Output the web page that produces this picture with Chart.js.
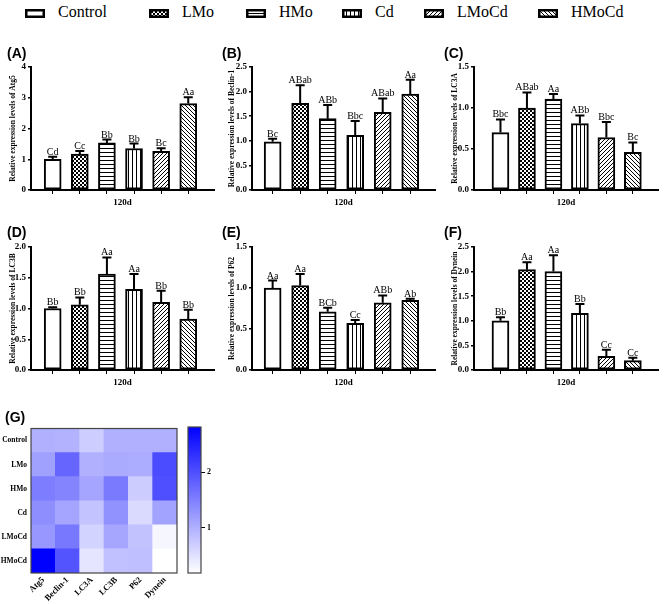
<!DOCTYPE html>
<html>
<head>
<meta charset="utf-8">
<script src="https://cdn.jsdelivr.net/npm/chart.js@4.4.1/dist/chart.umd.min.js"></script>
<style>
  html, body { margin: 0; padding: 0; background: #fff; }
  #page { position: relative; width: 669px; height: 604px; overflow: hidden; font-family: "Liberation Serif", "DejaVu Serif", serif; }
  .panel { position: absolute; }
  .tag { position: absolute; font: bold 14px "Liberation Sans", Arial, sans-serif; line-height: 14px; color: #000; }
  .legend-item { position: absolute; top: 0; height: 22px; width: 110px; }
  .legend-item canvas { position: absolute; left: 0; top: 9px; }
  .legend-item span { position: absolute; left: 33px; top: 4px; font-family: "Liberation Serif", "DejaVu Serif", serif; font-size: 16px; line-height: 16px; white-space: nowrap; color: #000; }
</style>
</head>
<body>
<div id="page">
  <div id="legend"></div>

  <canvas class="panel" id="chartA" width="220" height="175" style="left:0;top:40px"></canvas>
  <canvas class="panel" id="chartB" width="220" height="175" style="left:220px;top:40px"></canvas>
  <canvas class="panel" id="chartC" width="229" height="175" style="left:440px;top:40px"></canvas>
  <canvas class="panel" id="chartD" width="220" height="175" style="left:0;top:220px"></canvas>
  <canvas class="panel" id="chartE" width="220" height="175" style="left:220px;top:220px"></canvas>
  <canvas class="panel" id="chartF" width="229" height="175" style="left:440px;top:220px"></canvas>
  <canvas class="panel" id="heatmap" width="182" height="184" style="left:0;top:420px"></canvas>
  <canvas class="panel" id="colorbar" width="40" height="184" style="left:182px;top:420px"></canvas>

  <div class="tag" style="left:7px;top:46px">(A)</div>
  <div class="tag" style="left:222px;top:46px">(B)</div>
  <div class="tag" style="left:444px;top:46px">(C)</div>
  <div class="tag" style="left:7px;top:225px">(D)</div>
  <div class="tag" style="left:222px;top:225px">(E)</div>
  <div class="tag" style="left:444px;top:225px">(F)</div>
  <div class="tag" style="left:5px;top:410px">(G)</div>
</div>

<script>
// Groups and genes
const groups = ['Control', 'LMo', 'HMo', 'Cd', 'LMoCd', 'HMoCd'];
const genes = ['Atg5', 'Beclin-1', 'LC3A', 'LC3B', 'P62', 'Dynein'];

// Means, error (SD upper half) and significance letters per gene
const atg5Mean = [1.00, 1.17, 1.53, 1.35, 1.26, 2.81];
const atg5Err = [0.08, 0.10, 0.11, 0.16, 0.10, 0.21];
const atg5Letters = ['Cd', 'Cc', 'Bb', 'Bb', 'Bc', 'Aa'];
const atg5Ticks = [0, 1, 2, 3, 4];

const beclinMean = [0.98, 1.76, 1.45, 1.11, 1.58, 1.95];
const beclinErr = [0.06, 0.37, 0.28, 0.29, 0.28, 0.29];
const beclinLetters = ['Bc', 'ABab', 'ABb', 'Bbc', 'ABab', 'Aa'];
const beclinTicks = [0, 0.5, 1.0, 1.5, 2.0, 2.5];

const lc3aMean = [0.70, 1.00, 1.11, 0.81, 0.64, 0.46];
const lc3aErr = [0.16, 0.19, 0.06, 0.10, 0.19, 0.12];
const lc3aLetters = ['Bbc', 'ABab', 'Aa', 'ABb', 'Bbc', 'Bc'];
const lc3aTicks = [0, 0.5, 1.0, 1.5];

const lc3bMean = [1.00, 1.06, 1.56, 1.31, 1.10, 0.83];
const lc3bErr = [0.02, 0.12, 0.27, 0.25, 0.19, 0.15];
const lc3bLetters = ['Bb', 'Bb', 'Aa', 'Aa', 'Bb', 'Bb'];
const lc3bTicks = [0, 0.5, 1.0, 1.5, 2.0];

const p62Mean = [1.00, 1.03, 0.71, 0.57, 0.82, 0.85];
const p62Err = [0.09, 0.14, 0.05, 0.04, 0.09, 0.02];
const p62Letters = ['Aa', 'Aa', 'BCb', 'Cc', 'ABb', 'Ab'];
const p62Ticks = [0, 0.5, 1.0, 1.5];

const dyneinMean = [1.00, 2.04, 2.00, 1.15, 0.28, 0.19];
const dyneinErr = [0.07, 0.15, 0.33, 0.19, 0.13, 0.06];
const dyneinLetters = ['Bb', 'Aa', 'Aa', 'Bb', 'Cc', 'Cc'];
const dyneinTicks = [0, 0.5, 1.0, 1.5, 2.0, 2.5];

const colorbarTicks = [1, 2];

const SERIF = '"Liberation Serif", "DejaVu Serif", serif';
Chart.defaults.font.family = SERIF;
Chart.defaults.color = '#000';

// Fill patterns for each treatment group
function makePattern(kind) {
    const tile = document.createElement('canvas');
    tile.width = 4; tile.height = 4;
    const g = tile.getContext('2d');
    g.fillStyle = '#fff';
    g.fillRect(0, 0, 4, 4);
    g.fillStyle = '#000';
    if (kind === 'checker') { g.fillRect(0, 0, 2, 2); g.fillRect(2, 2, 2, 2); }
    if (kind === 'hline') g.fillRect(0, 0, 4, 1);
    if (kind === 'vline') g.fillRect(0, 0, 1, 4);
    if (kind === 'fwd') for (let i = 0; i < 4; i++) g.fillRect(3 - i, i, 1, 1);
    if (kind === 'back') for (let i = 0; i < 4; i++) g.fillRect(i, i, 1, 1);
    return g.createPattern(tile, 'repeat');
}
const groupKinds = ['plain', 'checker', 'hline', 'vline', 'fwd', 'back'];
const groupFills = groupKinds.map(makePattern);

// Legend on top
const legendPos = [25, 149, 246, 342, 424, 538];
const legendEl = document.getElementById('legend');
groups.forEach((name, i) => {
    const item = document.createElement('div');
    item.className = 'legend-item';
    item.style.left = legendPos[i] + 'px';
    const sw = document.createElement('canvas');
    sw.width = 20; sw.height = 9;
    const c = sw.getContext('2d');
    c.fillStyle = groupFills[i];
    c.fillRect(0, 0, 20, 9);
    c.lineWidth = 2.5;
    c.strokeStyle = '#000';
    c.strokeRect(1.25, 1.25, 17.5, 6.5);
    const label = document.createElement('span');
    label.textContent = name;
    item.appendChild(sw);
    item.appendChild(label);
    legendEl.appendChild(item);
});

// Error bars + letters above each bar
const errorBarPlugin = {
    id: 'errorBars',
    afterDatasetsDraw(chart) {
        const opts = chart.options.plugins.errorBars;
        if (!opts || !opts.err) return;
        const ctx = chart.ctx;
        const y = chart.scales.y;
        const meta = chart.getDatasetMeta(0);
        const values = chart.data.datasets[0].data;
        ctx.save();
        ctx.strokeStyle = '#000';
        ctx.lineWidth = 2;
        ctx.fillStyle = '#000';
        ctx.font = '10px ' + SERIF;
        ctx.textAlign = 'center';
        ctx.textBaseline = 'alphabetic';
        meta.data.forEach((bar, i) => {
            const top = y.getPixelForValue(values[i].y + opts.err[i]);
            ctx.beginPath();
            ctx.moveTo(bar.x, bar.y);
            ctx.lineTo(bar.x, top);
            ctx.moveTo(bar.x - 4.5, top);
            ctx.lineTo(bar.x + 4.5, top);
            ctx.stroke();
            ctx.fillText(opts.letters[i], bar.x, top - 2);
        });
        ctx.restore();
    }
};

// Thin frame around chart area (heatmap, colour bar)
const framePlugin = {
    id: 'frame',
    afterDraw(chart) {
        if (!chart.options.plugins.frame) return;
        const { left, top, width, height } = chart.chartArea;
        const ctx = chart.ctx;
        ctx.save();
        ctx.strokeStyle = '#444';
        ctx.lineWidth = 1.2;
        ctx.strokeRect(left, top, width, height);
        ctx.restore();
    }
};

const panels = [
    { id: 'chartA', means: atg5Mean, errs: atg5Err, letters: atg5Letters, ticks: atg5Ticks, dec: 0, gene: 'Atg5', yWidth: 31, padRight: 6, titleX: 13, xMin: 0.2, xMax: 6.95 },
    { id: 'chartB', means: beclinMean, errs: beclinErr, letters: beclinLetters, ticks: beclinTicks, dec: 1, gene: 'Beclin-1', yWidth: 32, padRight: 5, titleX: 12, xMin: 0.25, xMax: 6.9 },
    { id: 'chartC', means: lc3aMean, errs: lc3aErr, letters: lc3aLetters, ticks: lc3aTicks, dec: 1, gene: 'LC3A', yWidth: 34, padRight: 11, titleX: 15, xMin: 0.0, xMax: 6.95 },
    { id: 'chartD', means: lc3bMean, errs: lc3bErr, letters: lc3bLetters, ticks: lc3bTicks, dec: 1, gene: 'LC3B', yWidth: 31, padRight: 6, titleX: 13, xMin: 0.2, xMax: 6.95 },
    { id: 'chartE', means: p62Mean, errs: p62Err, letters: p62Letters, ticks: p62Ticks, dec: 1, gene: 'P62', yWidth: 32, padRight: 5, titleX: 12, xMin: 0.25, xMax: 6.9 },
    { id: 'chartF', means: dyneinMean, errs: dyneinErr, letters: dyneinLetters, ticks: dyneinTicks, dec: 1, gene: 'Dynein', yWidth: 34, padRight: 11, titleX: 15, xMin: 0.0, xMax: 6.95 }
];

panels.forEach(p => {
    new Chart(document.getElementById(p.id), {
        type: 'bar',
        data: {
            datasets: [{
                data: p.means.map((m, i) => ({ x: i + 1, y: m })),
                backgroundColor: groupFills,
                borderColor: '#000',
                borderWidth: 2,
                borderSkipped: false,
                barThickness: 17
            }]
        },
        options: {
            responsive: false,
            animation: false,
            layout: { padding: { top: 27, right: p.padRight, left: 0, bottom: 0 } },
            plugins: {
                legend: { display: false },
                tooltip: { enabled: false },
                errorBars: { err: p.errs, letters: p.letters }
            },
            scales: {
                x: {
                    type: 'linear',
                    offset: false,
                    min: p.xMin,
                    max: p.xMax,
                    afterBuildTicks: s => { s.ticks = p.means.map((_, i) => ({ value: i + 1 })); },
                    afterFit: s => { s.height = 25; },
                    ticks: { display: false },
                    grid: { offset: false, drawOnChartArea: false, drawTicks: true, tickLength: 4, color: '#000', lineWidth: 1 },
                    border: { color: '#000', width: 2 },
                    title: { display: true, text: '120d', color: '#000', font: { family: SERIF, weight: 'bold', size: 9 }, padding: { top: 0, bottom: 6.5 } }
                },
                y: {
                    min: p.ticks[0],
                    max: p.ticks[p.ticks.length - 1],
                    afterBuildTicks: s => { s.ticks = p.ticks.map(v => ({ value: v })); },
                    afterFit: s => { s.width = p.yWidth; },
                    ticks: { color: '#000', padding: 2, font: { family: SERIF, weight: 'bold', size: 9 }, callback: v => v.toFixed(p.dec) },
                    grid: { drawOnChartArea: false, drawTicks: true, tickLength: 3, color: '#000', lineWidth: 1.5 },
                    border: { color: '#000', width: 2 },
                    title: { display: true, text: 'Relative expression levels of ' + p.gene, color: '#000', font: { family: SERIF, weight: 'bold', size: 7.5 }, padding: { top: p.titleX - 4.5, bottom: 0 } }
                }
            }
        },
        plugins: [errorBarPlugin]
    });
});

// Heatmap (G): cells coloured from the same means
const heatColumns = [atg5Mean, beclinMean, lc3aMean, lc3bMean, p62Mean, dyneinMean];
const allValues = heatColumns.flat();
const heatMin = Math.min(...allValues);
const heatMax = Math.max(...allValues);

function heatColor(v) {
    const t = Math.max(0, Math.min(1, (v - heatMin) / (heatMax - heatMin)));
    const c = Math.round(255 * (1 - t));
    return `rgb(${c}, ${c}, 255)`;
}

// one stacked dataset per group row, bottom row (HMoCd) first
const heatDatasets = groups.map((g, gi) => ({
    label: g,
    data: genes.map(() => 1),
    backgroundColor: heatColumns.map(col => heatColor(col[gi])),
    borderWidth: 0,
    barPercentage: 1,
    categoryPercentage: 1
})).reverse();

new Chart(document.getElementById('heatmap'), {
    type: 'bar',
    data: { labels: genes, datasets: heatDatasets },
    options: {
        responsive: false,
        animation: false,
        layout: { padding: { top: 7, right: 5, left: 0, bottom: 0 } },
        plugins: { legend: { display: false }, tooltip: { enabled: false }, frame: true },
        scales: {
            x: {
                stacked: true,
                afterCalculateLabelRotation: s => { s.labelRotation = 45; },
                afterFit: s => { s.height = 31; },
                ticks: { autoSkip: false, minRotation: 45, maxRotation: 45, padding: 2, color: '#000', font: { family: SERIF, weight: 'bold', size: 8.5 } },
                grid: { display: false, drawTicks: false },
                border: { display: false }
            },
            y: {
                stacked: true,
                min: 0,
                max: groups.length,
                afterBuildTicks: s => { s.ticks = groups.map((_, i) => ({ value: i + 0.5 })); },
                afterFit: s => { s.width = 31; },
                ticks: { padding: 4, color: '#000', font: { family: SERIF, weight: 'bold', size: 7.5 }, callback: v => groups[groups.length - 1 - Math.floor(v)] },
                grid: { display: false, drawTicks: false },
                border: { display: false }
            }
        }
    },
    plugins: [framePlugin]
});

// Colour bar for the heatmap
new Chart(document.getElementById('colorbar'), {
    type: 'bar',
    data: {
        labels: ['scale'],
        datasets: [{
            data: [[heatMin, heatMax]],
            backgroundColor: ctx => {
                const area = ctx.chart.chartArea;
                if (!area) return heatColor(heatMin);
                const grad = ctx.chart.ctx.createLinearGradient(0, area.bottom, 0, area.top);
                grad.addColorStop(0, heatColor(heatMin));
                grad.addColorStop(1, heatColor(heatMax));
                return grad;
            },
            borderWidth: 0,
            barPercentage: 1,
            categoryPercentage: 1
        }]
    },
    options: {
        responsive: false,
        animation: false,
        layout: { padding: { top: 7, right: 0, left: 6, bottom: 31 } },
        plugins: { legend: { display: false }, tooltip: { enabled: false }, frame: true },
        scales: {
            x: { display: false },
            y: {
                position: 'right',
                min: heatMin,
                max: heatMax,
                afterBuildTicks: s => { s.ticks = colorbarTicks.map(v => ({ value: v })); },
                afterFit: s => { s.width = 21; },
                ticks: { padding: 2, color: '#000', font: { family: SERIF, weight: 'bold', size: 8 } },
                grid: { drawOnChartArea: false, drawTicks: true, tickLength: 4, color: '#000', lineWidth: 1 },
                border: { display: false }
            }
        }
    },
    plugins: [framePlugin]
});
</script>
</body>
</html>
